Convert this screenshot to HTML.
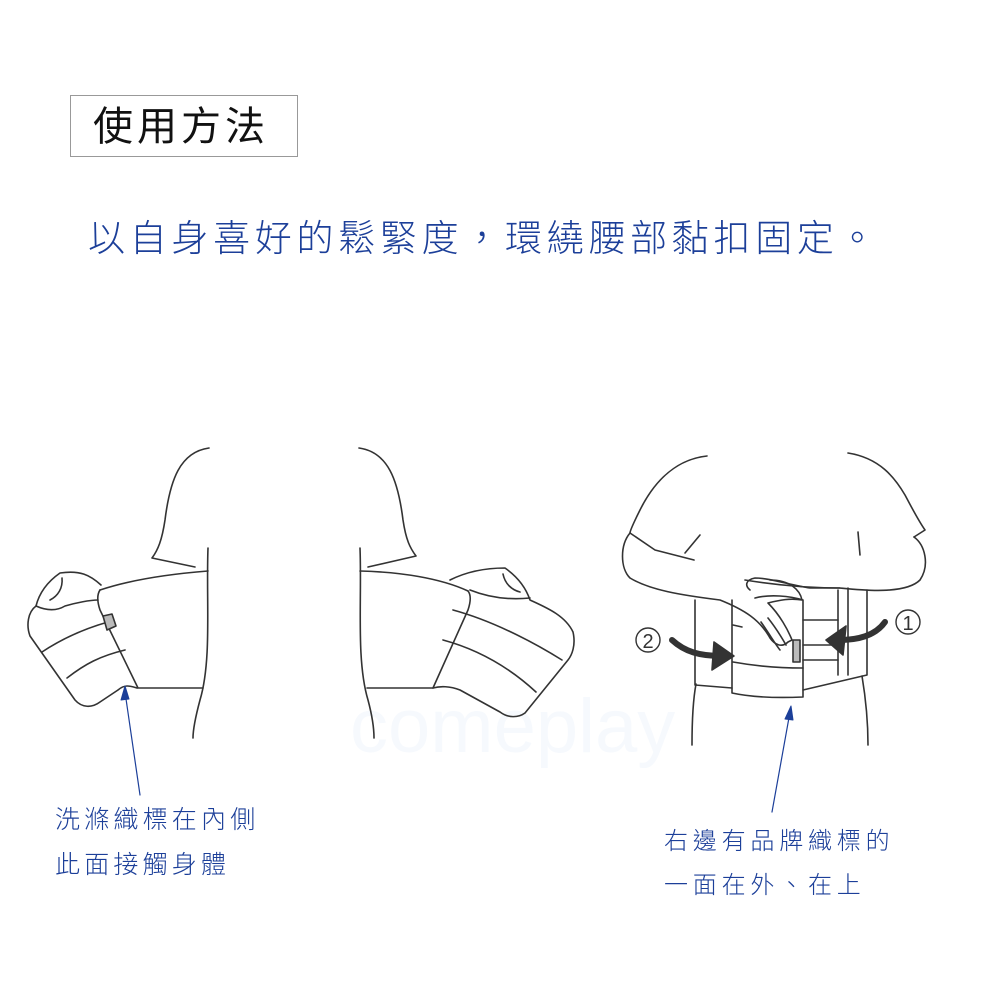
<!DOCTYPE html>
<html><head><meta charset="utf-8">
<style>
html,body{margin:0;padding:0;background:#fff;}
body{width:1000px;height:1000px;position:relative;overflow:hidden;font-family:"Liberation Sans","Noto Sans CJK TC",sans-serif;}
.t{position:absolute;white-space:nowrap;line-height:1;}
</style></head><body>
<div style="position:absolute;left:70px;top:95px;width:228px;height:62px;border:1px solid #999;box-sizing:border-box;"></div>
<div class="t" style="left:93px;top:107px;font-size:40px;letter-spacing:4px;color:#111;font-weight:400;">使用方法</div>
<div class="t" style="left:88px;top:220px;font-size:37px;letter-spacing:4.7px;color:#1c3f99;font-weight:300;">以自身喜好的鬆緊度，環繞腰部黏扣固定。</div>

<svg width="1000" height="1000" style="position:absolute;left:0;top:0" fill="none" stroke="#333" stroke-width="1.6" stroke-linejoin="round" stroke-linecap="round">
<text x="350" y="752" font-family="Liberation Sans" font-size="76" fill="#f6f9fd" stroke="none">comeplay</text>
<!-- Figure 1 -->
<path d="M209,448 C180,452 170,480 165,520 C162,540 158,550 152,558 L195,567"/>
<path d="M208,548 C206,600 212,660 200,700 C196,715 193,728 193,738"/>
<path d="M100,590 C96,596 98,604 100,610 L138,688 L203,688"/>
<path d="M100,590 C130,580 170,574 208,571"/>
<path d="M101,585 C90,575 80,570 60,573 C50,580 40,590 36,606 C28,612 26,625 30,636 L75,700 C82,708 92,708 100,702 L118,690 C125,684 130,686 137,688"/>
<path d="M36,606 C45,610 55,612 65,606 C75,603 90,600 98,600"/>
<path d="M62,578 C63,588 58,596 50,600"/>
<path d="M42,652 C60,640 80,630 108,622"/>
<path d="M67,678 C85,664 100,656 125,650"/>
<path d="M103,616 L112,614 L116,626 L107,630 Z" fill="#bbb"/>
<!-- Figure 2 -->
<path d="M359,448 C388,452 398,480 403,520 C406,540 410,548 416,556 L368,567"/>
<path d="M360,548 C362,600 356,660 368,700 C372,715 374,728 374,738"/>
<path d="M468,591 C472,596 470,604 468,610 L433,688 L367,688"/>
<path d="M360,571 C400,572 440,578 468,591"/>
<path d="M450,580 C470,570 490,568 505,568 C515,575 525,585 530,600 C545,607 565,615 573,632 C576,645 572,655 568,660 L525,713 C518,718 508,718 500,712 L460,690 C450,686 440,686 433,688"/>
<path d="M470,590 C490,598 510,600 530,598"/>
<path d="M503,574 C505,584 512,590 520,592"/>
<path d="M453,610 C490,620 530,640 562,660"/>
<path d="M443,640 C480,650 510,668 536,692"/>
<!-- Figure 3 -->
<path d="M707,456 C670,460 650,490 640,510 C635,520 630,530 630,533"/>
<path d="M848,453 C880,458 895,478 905,495 C912,508 918,520 925,530 L914,537"/>
<path d="M630,533 C620,545 620,568 630,578 C650,590 680,595 720,600 C745,610 760,620 770,638 C775,645 782,648 788,642 L792,640 C788,630 780,615 768,603 C780,600 790,598 802,600 C800,590 790,580 770,580"/>
<path d="M630,533 L655,550 L694,560"/>
<path d="M700,535 L685,553"/>
<path d="M914,537 C925,545 930,565 920,580 C905,595 860,590 840,588 L810,588 C790,585 770,578 755,578 C745,580 745,586 750,590"/>
<path d="M858,532 L860,555"/>
<path d="M695,600 L695,685 L732,688"/>
<path d="M696,684 C693,700 692,720 692,745"/>
<path d="M867,590 L867,675 L803,690"/>
<path d="M862,676 C866,700 868,720 868,745"/>
<path d="M732,600 L732,693 C755,698 780,698 803,697 L803,600 C790,596 770,594 755,598"/>
<path d="M745,580 C775,585 810,588 840,588"/>
<path d="M838,590 L838,675"/>
<path d="M848,588 L848,675"/>
<path d="M733,625 L742,627 M733,662 C755,666 780,668 803,668 M803,620 L838,620 M803,645 L838,645 M803,660 L838,660"/>
<rect x="793" y="640" width="7" height="22" fill="#bbb"/>
<path d="M761,622 C770,635 776,645 780,650 M768,618 C776,628 782,638 786,645"/>
<!-- arrows -->
<path d="M885,622 C875,636 858,640 838,640" stroke="#333" stroke-width="6" fill="none"/>
<path d="M826,640 L846,626 L843,655 Z" fill="#333" stroke="#333"/>
<path d="M672,640 C685,652 700,656 722,656" stroke="#333" stroke-width="6" fill="none"/>
<path d="M734,656 L714,642 L712,670 Z" fill="#333" stroke="#333"/>
<circle cx="908" cy="622" r="12" stroke-width="1.4"/>
<text x="908" y="630" text-anchor="middle" font-family="Liberation Sans" font-size="20" fill="#333" stroke="none">1</text>
<circle cx="648" cy="640" r="12" stroke-width="1.4"/>
<text x="648" y="648" text-anchor="middle" font-family="Liberation Sans" font-size="20" fill="#333" stroke="none">2</text>
<!-- pointer lines -->
<path d="M140,795 L125,692" stroke="#1c3f99" stroke-width="1.2"/>
<path d="M125,686 L121,700 L129,699 Z" fill="#1c3f99" stroke="#1c3f99" stroke-width="1"/>
<path d="M772,812 L790,712" stroke="#1c3f99" stroke-width="1.2"/>
<path d="M791,706 L785,719 L793,720 Z" fill="#1c3f99" stroke="#1c3f99" stroke-width="1"/>
</svg>

<div class="t" style="left:55px;top:808px;font-size:25px;letter-spacing:4.2px;color:#1c3f99;font-weight:300;">洗滌織標在內側</div>
<div class="t" style="left:55px;top:853px;font-size:25px;letter-spacing:4.2px;color:#1c3f99;font-weight:300;">此面接觸身體</div>
<div class="t" style="left:664px;top:830px;font-size:24px;letter-spacing:4.8px;color:#1c3f99;font-weight:300;">右邊有品牌織標的</div>
<div class="t" style="left:664px;top:874px;font-size:24px;letter-spacing:4.8px;color:#1c3f99;font-weight:300;">一面在外、在上</div>
</body></html>
